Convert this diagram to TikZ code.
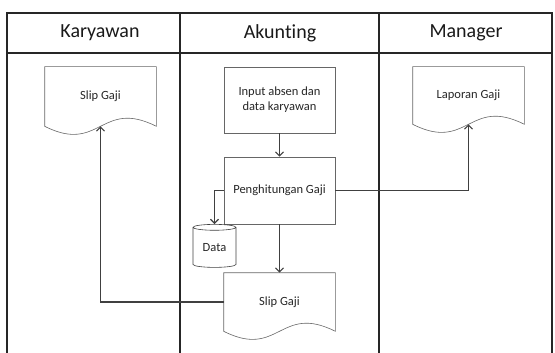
\documentclass[tikz,border=0pt]{standalone}
\usepackage{fontspec}
\setmainfont{Carlito}[Ligatures=NoCommon]
\usetikzlibrary{arrows.meta,shapes.geometric}
\begin{document}
\begin{tikzpicture}[x=1pt,y=-1pt,
  lajur/.style={line width=1.1pt,draw=black!85},
  judul/.style={font=\fontsize{20}{24}\selectfont,text=black!90},
  kotak/.style={draw=black!60,line width=0.6pt,minimum width=111pt,align=center,
    font=\fontsize{12.5}{15}\selectfont,text=black!85},
  dokumen/.style={kotak,draw=none},
  panah/.style={line width=1.2pt,draw=black!75,-{Straight Barb[length=4pt,width=8pt]}}]
\useasboundingbox (0,0) rectangle (555,353);
% garis lajur
\draw[lajur] (7,353) -- (7,13) -- (552,13) -- (552,353);
\draw[lajur] (7,53) -- (552,53);
\draw[lajur] (180,13) -- (180,353);
\draw[lajur] (379,13) -- (379,353);
% judul lajur
\node[judul] (karyawan) at (100,33) {Karyawan};
\node[judul] (akunting) at (280,33) {Akunting};
\node[judul] (manager) at (466,33) {Manager};
% proses akunting
\node[kotak,minimum height=66pt] (input) at (279.5,100) {Input absen dan\\data karyawan};
\node[kotak,minimum height=67pt] (hitung) at (279.5,190.5) {Penghitungan Gaji};
\node[cylinder,shape border rotate=90,draw=black!75,line width=0.6pt,aspect=0.25,
  minimum width=43pt,minimum height=43pt,inner sep=0pt,
  font=\fontsize{12.5}{15}\selectfont,text=black!85] (data) at (214.5,247.5) {Data};
% dokumen
\node[dokumen,minimum height=59pt] (slipk) at (100.5,96.5) {Slip Gaji};
\node[dokumen,minimum height=57pt] (laporan) at (468.5,95.5) {Laporan Gaji};
\node[dokumen,minimum height=58pt] (slipa) at (279.5,302) {Slip Gaji};
\foreach \d in {slipk,laporan,slipa}
  \draw[draw=black!60,line width=0.6pt] (\d.north west) -- (\d.north east) -- (\d.south east)
    .. controls +(-55.5,-28) and +(55.5,28) .. (\d.south west) -- cycle;
% aliran
\draw[panah] (input.south) -- (hitung.north);
\draw[panah] (hitung.south) -- (slipa.north);
\draw[panah] (hitung.east) -| (laporan.south);
\draw[panah] (hitung.west) -| (data.north);
\draw[panah] (slipa.west) -| (slipk.south);
\end{tikzpicture}
\end{document}
